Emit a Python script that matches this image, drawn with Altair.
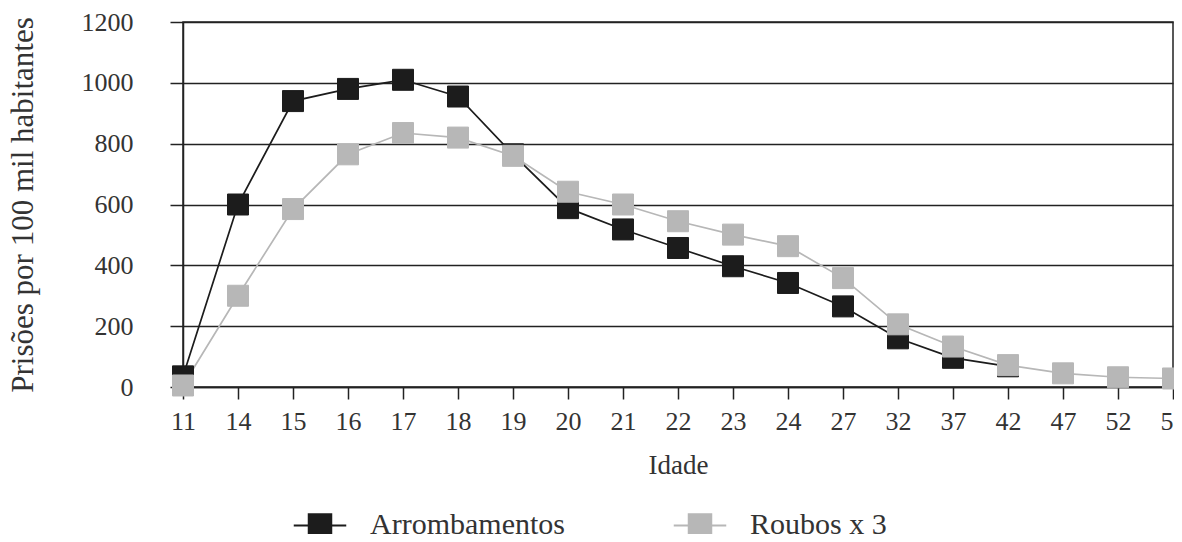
import altair as alt
import pandas as pd

ages = ["11", "14", "15", "16", "17", "18", "19", "20", "21", "22", "23", "24",
        "27", "32", "37", "42", "47", "52", "57"]
arrombamentos = [35, 600, 940, 980, 1010, 955, 765, 588, 518, 457, 397, 342,
                 265, 160, 96, 68]
roubos_x3 = [5, 300, 585, 765, 835, 820, 760, 642, 600, 545, 501, 463,
             358, 206, 133, 72, 45, 32, 28]
series_names = ["Arrombamentos", "Roubos x 3"]
series_colors = ["#1c1c1c", "#b7b7b7"]
y_ticks = [0, 200, 400, 600, 800, 1000, 1200]

rows = []
for a, v in zip(ages, arrombamentos):
    rows.append({"idade": a, "valor": v, "serie": series_names[0]})
for a, v in zip(ages, roubos_x3):
    rows.append({"idade": a, "valor": v, "serie": series_names[1]})
df = pd.DataFrame(rows)

FONT = "Liberation Serif"
INK = "#222222"
TXT = "#333333"

x = alt.X(
    "idade:O", sort=ages,
    scale=alt.Scale(type="point", padding=0),
    axis=alt.Axis(title="Idade", labelAngle=0, labelFont=FONT, titleFont=FONT,
                  labelFontSize=26, titleFontSize=27, titleFontWeight="normal",
                  labelColor=TXT, titleColor=TXT, tickSize=12, tickWidth=1.5,
                  tickColor=INK, domainColor=INK, domainWidth=1.5,
                  labelPadding=9, titlePadding=18, grid=False),
)
y = alt.Y(
    "valor:Q",
    scale=alt.Scale(domain=[0, 1200], nice=False),
    axis=alt.Axis(title="Prisões por 100 mil habitantes", values=y_ticks,
                  format="d",
                  labelFont=FONT, titleFont=FONT, labelFontSize=26,
                  titleFontSize=31, titleFontWeight="normal",
                  labelColor=TXT, titleColor=TXT, grid=True, gridColor=INK,
                  gridWidth=1.5, gridOpacity=1, tickSize=13, tickWidth=1.5,
                  tickColor=INK, domainColor=INK, domainWidth=1.5,
                  labelPadding=37, titlePadding=42),
)

# lines: data-driven domain (sorted), so this legend-less scale stays apart
lines = alt.Chart(df).mark_line(strokeWidth=1.7).encode(
    x=x, y=y,
    color=alt.Color("serie:N", scale=alt.Scale(range=series_colors),
                    legend=None),
)

legend = alt.Legend(
    title=None, orient="none", legendX=122, legendY=488, direction="horizontal",
    padding=0, labelLimit=0,
    symbolType="M-2.1,0H2.1M-0.9,-0.9H0.9V0.9H-0.9Z",
    symbolSize=625, symbolStrokeWidth=2, symbolOpacity=1,
    labelFont=FONT, labelFontSize=30, labelColor=TXT, labelOffset=35,
    columnPadding=104,
)

legend_scale = alt.Scale(domain=series_names, range=series_colors)

points = alt.Chart(df).mark_square(size=441, filled=True, opacity=1,
                                   strokeWidth=1).encode(
    x=x, y=y,
    fill=alt.Fill("serie:N", scale=legend_scale, legend=legend),
    stroke=alt.Stroke("serie:N", scale=legend_scale, legend=legend),
)

chart = alt.layer(lines, points).properties(
    width=990, height=365,
    autosize=alt.AutoSizeParams(type="none"),
    padding={"left": 175, "top": 14, "right": 1, "bottom": 147},
).configure_view(stroke=INK, strokeWidth=1.5)

chart.save("out.html", embed_options={"renderer": "svg", "actions": False})
